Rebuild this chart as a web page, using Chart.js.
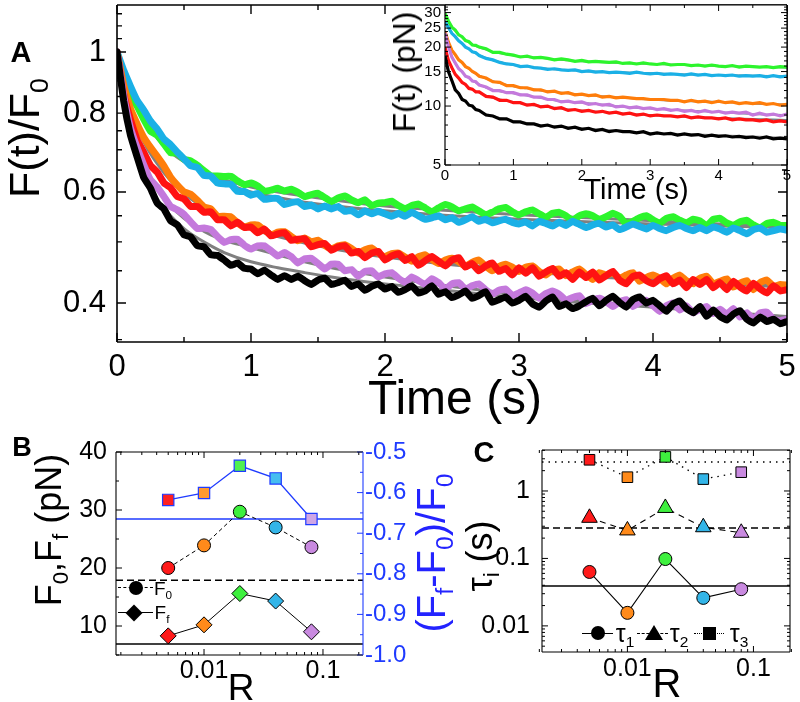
<!DOCTYPE html>
<html><head><meta charset="utf-8">
<script src="https://cdn.jsdelivr.net/npm/chart.js@4.4.1/dist/chart.umd.min.js"></script>
<style>
body{margin:0;background:#fff;width:800px;height:702px;position:relative;overflow:hidden;font-family:"Liberation Sans",Arial,sans-serif;color:#000}
canvas{position:absolute}
.t{position:absolute;white-space:nowrap;line-height:1;transform:translate(-50%,-50%)}
.r{transform:translate(-50%,-50%) rotate(-90deg)}
.t sub{font-size:62%;vertical-align:baseline;position:relative;top:0.32em}
.abs{position:absolute}
</style></head><body>
<canvas id="cA" width="800" height="400" style="left:0;top:0;width:800px;height:400px"></canvas>
<canvas id="cI" width="420" height="200" style="left:380px;top:0;width:420px;height:200px"></canvas>
<canvas id="cB" width="420" height="282" style="left:0;top:420px;width:420px;height:282px"></canvas>
<canvas id="cC" width="380" height="282" style="left:420px;top:420px;width:380px;height:282px"></canvas>

<div class="t" style="left:21px;top:52px;font-size:29px;font-weight:bold">A</div>
<div class="t r" style="left:24px;top:138px;font-size:43px">F(t)/F<sub>0</sub></div>
<div class="t" style="left:455px;top:398px;font-size:48px">Time (s)</div>
<div class="t r" style="left:404px;top:72px;font-size:32px">F(t) (pN)</div>
<div class="t" style="left:636px;top:189px;font-size:29px">Time (s)</div>

<div class="t" style="left:22px;top:447px;font-size:27px;font-weight:bold">B</div>
<div class="t r" style="left:49px;top:530px;font-size:36px">F<sub>0</sub>,F<sub>f</sub> (pN)</div>
<div class="t" style="left:241px;top:687px;font-size:37px">R</div>
<div class="t r" style="left:431px;top:553px;font-size:40px;color:#2323ff">(F<sub>f</sub>-F<sub>0</sub>)/F<sub>0</sub></div>
<!-- B legend -->
<div class="abs" style="left:118px;top:587px;width:35px;border-top:1.3px dashed #000"></div>
<div class="abs" style="left:129px;top:581px;width:14px;height:14px;border-radius:50%;background:#000"></div>
<div class="t" style="left:163px;top:588px;font-size:19px">F<sub>0</sub></div>
<div class="abs" style="left:118px;top:612px;width:35px;border-top:1.3px solid #000"></div>
<div class="abs" style="left:128px;top:607px;width:12px;height:12px;background:#000;transform:rotate(45deg)"></div>
<div class="t" style="left:162px;top:612px;font-size:19px">F<sub>f</sub></div>

<div class="t" style="left:484px;top:452px;font-size:29px;font-weight:bold">C</div>
<div class="t r" style="left:480px;top:556px;font-size:36px">τ<sub>i</sub> (s)</div>
<div class="t" style="left:667px;top:683px;font-size:40px">R</div>
<!-- C legend -->
<div class="abs" style="left:582px;top:633px;width:31px;border-top:1.3px solid #000"></div>
<div class="abs" style="left:591px;top:626px;width:14px;height:14px;border-radius:50%;background:#000"></div>
<div class="t" style="left:625px;top:633px;font-size:25px">τ<sub>1</sub></div>
<div class="abs" style="left:637px;top:633px;width:31px;border-top:1.3px dashed #000"></div>
<div class="abs" style="left:645px;top:625px;width:0;height:0;border-left:9px solid transparent;border-right:9px solid transparent;border-bottom:15px solid #000"></div>
<div class="t" style="left:679px;top:633px;font-size:25px">τ<sub>2</sub></div>
<div class="abs" style="left:694px;top:633px;width:30px;border-top:1.5px dotted #000"></div>
<div class="abs" style="left:703px;top:627px;width:13px;height:13px;background:#000"></div>
<div class="t" style="left:739px;top:633px;font-size:25px">τ<sub>3</sub></div>

<script>
// ---------------- DATA ----------------
// Panel A time grid (s)
const tMain = [0,0.05,0.1,0.15,0.2,0.25,0.3,0.35,0.4,0.45,
 0.5,0.55,0.6,0.65,0.7,0.75,0.8,0.85,0.9,0.95,
 1.0,1.05,1.1,1.15,1.2,1.25,1.3,1.35,1.4,1.45,
 1.5,1.55,1.6,1.65,1.7,1.75,1.8,1.85,1.9,1.95,
 2.0,2.05,2.1,2.15,2.2,2.25,2.3,2.35,2.4,2.45,
 2.5,2.55,2.6,2.65,2.7,2.75,2.8,2.85,2.9,2.95,
 3.0,3.05,3.1,3.15,3.2,3.25,3.3,3.35,3.4,3.45,
 3.5,3.55,3.6,3.65,3.7,3.75,3.8,3.85,3.9,3.95,
 4.0,4.05,4.1,4.15,4.2,4.25,4.3,4.35,4.4,4.45,
 4.5,4.55,4.6,4.65,4.7,4.75,4.8,4.85,4.9,4.95,
 5.0];
// Inset time grid (s)
const tInset = [0,0.05,0.1,0.15,0.2,0.25,0.3,0.35,0.4,0.45,
 0.5,0.6,0.7,0.8,0.9,1.0,1.1,1.2,1.3,1.4,
 1.5,1.6,1.7,1.8,1.9,2.0,2.1,2.2,2.3,2.4,
 2.5,2.6,2.7,2.8,2.9,3.0,3.1,3.2,3.3,3.4,
 3.5,3.6,3.7,3.8,3.9,4.0,4.1,4.2,4.3,4.4,
 4.5,4.6,4.7,4.8,4.9,5.0];
// Fit-curve time grid (s)
const tFit = [0,0.05,0.1,0.15,0.2,0.3,0.4,0.5,0.6,0.7,0.8,1.0,1.2,1.4,1.6,1.8,2.0,2.5,3.0,3.5,4.0,4.5,5.0];

// Panel A: normalised force F(t)/F0
const normGreen = [1.0,.914,.852,.821,.782,.749,.738,.715,.692,.691,
 .676,.672,.661,.648,.636,.636,.635,.635,.625,.616,
 .620,.613,.602,.604,.608,.602,.606,.599,.590,.594,
 .597,.588,.579,.587,.591,.583,.577,.583,.571,.576,
 .577,.580,.571,.564,.571,.574,.566,.558,.566,.573,
 .568,.560,.564,.568,.560,.552,.557,.564,.567,.558,
 .552,.558,.562,.554,.547,.555,.557,.550,.541,.550,
 .554,.550,.543,.548,.555,.549,.534,.539,.546,.550,
 .542,.535,.545,.548,.541,.536,.543,.540,.530,.543,
 .545,.536,.531,.538,.541,.532,.526,.535,.537,.531,
 .531];
const normCyan = [1.0,.935,.883,.838,.809,.777,.755,.728,.713,.694,
 .677,.660,.656,.637,.636,.620,.618,.617,.601,.601,
 .593,.597,.584,.586,.586,.573,.577,.579,.569,.572,
 .564,.570,.564,.569,.559,.561,.552,.560,.554,.559,
 .554,.549,.555,.549,.557,.550,.543,.546,.550,.542,
 .546,.537,.542,.548,.539,.543,.536,.540,.543,.537,
 .534,.538,.530,.539,.535,.530,.537,.531,.539,.533,
 .527,.532,.535,.528,.532,.523,.528,.534,.529,.524,
 .531,.525,.521,.527,.531,.525,.521,.527,.521,.528,
 .524,.518,.526,.521,.515,.523,.526,.518,.521,.524,
 .522];
const normOrange = [1.0,.886,.814,.769,.732,.706,.683,.660,.633,.615,
 .600,.595,.582,.568,.564,.549,.549,.548,.536,.528,
 .532,.532,.522,.513,.518,.519,.510,.502,.507,.500,
 .503,.494,.487,.493,.495,.488,.480,.486,.489,.480,
 .474,.479,.480,.473,.466,.474,.477,.469,.462,.468,
 .471,.465,.457,.464,.468,.458,.450,.457,.461,.456,
 .449,.456,.458,.449,.443,.451,.453,.442,.448,.453,
 .444,.436,.447,.443,.447,.438,.443,.447,.433,.439,
 .443,.438,.429,.438,.443,.434,.429,.438,.441,.429,
 .433,.437,.424,.430,.434,.420,.431,.435,.425,.428,
 .427];
const normRed = [1.0,.857,.782,.726,.693,.661,.645,.620,.609,.590,
 .585,.569,.569,.557,.558,.542,.542,.530,.537,.527,
 .528,.517,.524,.511,.515,.517,.503,.505,.506,.491,
 .495,.497,.485,.491,.493,.480,.483,.472,.480,.483,
 .468,.475,.479,.467,.474,.459,.467,.474,.466,.458,
 .468,.472,.456,.462,.450,.458,.463,.449,.454,.443,
 .455,.446,.455,.441,.448,.454,.441,.447,.436,.448,
 .439,.448,.435,.442,.449,.435,.429,.441,.443,.434,
 .429,.437,.442,.429,.435,.423,.436,.428,.436,.423,
 .431,.420,.433,.424,.418,.430,.421,.415,.426,.418,
 .420];
const normPurple = [1.0,.853,.758,.705,.662,.627,.611,.590,.569,.562,
 .553,.538,.525,.526,.523,.510,.499,.504,.505,.494,
 .487,.493,.493,.484,.475,.481,.474,.463,.470,.471,
 .462,.453,.461,.461,.450,.452,.441,.449,.450,.440,
 .445,.447,.438,.431,.440,.434,.428,.437,.431,.421,
 .429,.431,.421,.426,.429,.420,.413,.419,.421,.411,
 .415,.420,.415,.407,.414,.418,.413,.404,.408,.411,
 .399,.404,.407,.402,.395,.402,.405,.395,.401,.404,
 .396,.388,.396,.400,.390,.396,.386,.391,.395,.385,
 .391,.384,.392,.380,.386,.377,.386,.387,.377,.375,
 .377];
const normBlack = [1.0,.836,.739,.682,.632,.608,.576,.564,.540,.532,
 .513,.509,.493,.491,.477,.476,.468,.459,.463,.454,
 .453,.445,.451,.443,.436,.442,.436,.441,.434,.428,
 .435,.438,.428,.431,.435,.425,.429,.419,.425,.429,
 .421,.425,.416,.420,.426,.415,.418,.426,.413,.417,
 .408,.412,.418,.407,.411,.417,.401,.405,.409,.400,
 .404,.410,.399,.394,.403,.409,.395,.399,.392,.396,
 .402,.407,.396,.404,.410,.401,.394,.405,.409,.400,
 .404,.396,.388,.399,.403,.392,.386,.395,.381,.390,
 .381,.376,.384,.389,.377,.372,.380,.374,.377,.371,
 .374];

const fitNormGreen  = [1.0,.91,.855,.815,.78,.73,.694,.67,.652,.638,.627,.611,.60,.591,.583,.576,.57,.56,.552,.546,.54,.534,.528];
const fitNormCyan   = [1.0,.93,.875,.835,.80,.745,.705,.675,.652,.635,.621,.60,.588,.578,.571,.565,.56,.55,.543,.538,.534,.530,.527];
const fitNormOrange = [1.0,.88,.81,.76,.72,.665,.625,.597,.575,.558,.545,.527,.512,.50,.49,.482,.475,.462,.451,.442,.436,.430,.425];
const fitNormRed    = [1.0,.86,.78,.73,.69,.64,.605,.583,.566,.552,.541,.524,.510,.498,.488,.480,.473,.460,.450,.441,.435,.429,.424];
const fitNormPurple = [1.0,.85,.76,.70,.66,.605,.57,.545,.527,.513,.503,.49,.477,.465,.455,.447,.44,.425,.413,.403,.395,.387,.38];
const fitNormBlack  = [1.0,.84,.745,.68,.64,.585,.55,.525,.507,.493,.481,.465,.455,.447,.44,.434,.429,.418,.408,.40,.394,.387,.381];

// Inset: force in pN
const pnGreen = [29.7,27.2,25.3,24.4,23.1,22.6,21.6,21.3,20.5,20.4,
 20.0,19.6,18.8,18.8,18.4,18.2,17.8,18.0,17.6,17.7,
 17.5,17.2,17.4,17.2,16.9,17.1,16.8,16.9,16.8,16.7,
 16.8,16.5,16.6,16.4,16.6,16.4,16.3,16.5,16.2,16.3,
 16.3,16.1,16.2,16.0,16.2,16.0,15.9,16.1,15.8,16.0,
 15.9,15.8,15.9,15.7,15.9,15.8];
const pnCyan = [27.0,25.2,23.5,22.6,21.5,20.9,20.0,19.6,18.9,18.7,
 18.1,17.5,17.2,16.7,16.4,16.3,15.9,16.0,15.7,15.6,
 15.4,15.5,15.3,15.2,15.3,15.0,15.1,14.9,15.0,14.8,
 14.9,14.8,14.7,14.9,14.7,14.6,14.7,14.5,14.6,14.5,
 14.4,14.6,14.4,14.5,14.3,14.4,14.3,14.4,14.2,14.3,
 14.2,14.3,14.1,14.3,14.1,14.2];
const pnOrange = [24.0,21.2,19.3,18.3,17.2,16.7,15.9,15.6,15.0,14.7,
 14.2,13.9,13.3,13.2,12.7,12.7,12.4,12.4,12.1,12.1,
 11.8,11.9,11.6,11.7,11.4,11.5,11.3,11.4,11.1,11.2,
 11.0,11.1,11.0,10.9,10.9,10.8,10.8,10.8,10.7,10.7,
 10.5,10.7,10.5,10.6,10.4,10.6,10.4,10.5,10.3,10.4,
 10.3,10.4,10.2,10.3,10.1,10.2];
const pnRed = [20.0,17.1,15.7,14.5,13.9,13.2,12.9,12.3,12.2,11.8,
 11.8,11.2,11.1,10.7,10.7,10.4,10.4,10.1,10.2,9.9,
 10.0,9.7,9.8,9.5,9.6,9.4,9.5,9.3,9.4,9.2,
 9.3,9.1,9.2,9.0,9.1,8.9,9.0,8.9,8.9,8.8,
 8.9,8.7,8.8,8.7,8.7,8.6,8.7,8.5,8.6,8.5,
 8.5,8.4,8.5,8.3,8.4,8.3];
const pnPurple = [23.6,20.2,17.8,16.6,15.5,15.0,14.2,14.0,13.4,13.3,
 12.8,12.5,12.0,12.0,11.7,11.7,11.4,11.4,11.1,11.1,
 10.8,10.8,10.5,10.6,10.4,10.5,10.2,10.3,10.1,10.2,
 9.9,10.0,9.8,9.9,9.7,9.8,9.6,9.7,9.5,9.6,
 9.4,9.5,9.3,9.5,9.3,9.4,9.2,9.3,9.2,9.3,
 9.0,9.2,9.0,9.1,8.9,9.1];
const pnBlack = [18.0,15.0,13.5,12.1,11.6,10.8,10.6,10.1,10.0,9.6,
 9.5,9.0,8.9,8.6,8.6,8.3,8.3,8.1,8.1,7.9,
 8.0,7.8,7.9,7.7,7.8,7.6,7.7,7.5,7.6,7.4,
 7.5,7.4,7.4,7.3,7.4,7.2,7.3,7.2,7.25,7.1,
 7.2,7.1,7.15,7.0,7.1,7.0,7.05,6.95,7.0,6.9,
 6.95,6.85,6.95,6.8,6.85,6.8];

const fitPnGreen  = [29.7,27.0,25.4,24.2,23.2,21.7,20.6,19.9,19.4,18.9,18.6,18.1,17.8,17.6,17.3,17.1,16.9,16.6,16.4,16.2,16.0,15.9,15.7];
const fitPnCyan   = [27.0,25.1,23.6,22.5,21.6,20.1,19.0,18.2,17.6,17.1,16.8,16.2,15.9,15.6,15.4,15.3,15.1,14.9,14.7,14.5,14.4,14.3,14.2];
const fitPnOrange = [24.0,21.1,19.4,18.2,17.3,16.0,15.0,14.3,13.8,13.4,13.1,12.6,12.3,12.0,11.8,11.6,11.4,11.1,10.8,10.6,10.5,10.3,10.2];
const fitPnRed    = [20.0,17.2,15.6,14.6,13.8,12.8,12.1,11.7,11.3,11.0,10.8,10.5,10.2,10.0,9.8,9.6,9.5,9.2,9.0,8.8,8.7,8.6,8.5];
const fitPnPurple = [23.6,20.1,17.9,16.5,15.6,14.3,13.5,12.9,12.4,12.1,11.9,11.6,11.3,11.0,10.7,10.5,10.4,10.0,9.7,9.5,9.3,9.1,9.0];
const fitPnBlack  = [18.0,15.1,13.4,12.2,11.5,10.5,9.9,9.45,9.1,8.9,8.7,8.4,8.2,8.0,7.9,7.8,7.7,7.5,7.3,7.2,7.1,7.0,6.9];

// Panels B and C
const R = [0.005, 0.01, 0.02, 0.04, 0.08];
const F0 = [20.0, 23.9, 29.7, 27.0, 23.6];
const Ff = [8.3, 10.2, 15.6, 14.3, 9.0];
const relDrop = [-0.618, -0.601, -0.534, -0.565, -0.665];
const refF0 = 17.9, refFf = 6.9, refDrop = -0.665;
const tau1 = [0.063, 0.0156, 0.098, 0.026, 0.035];
const tau2 = [0.40, 0.26, 0.56, 0.29, 0.24];
const tau3 = [2.9, 1.6, 3.2, 1.5, 1.9];
const refTau = [0.039, 0.283, 2.7];

// tick labels
const aXTicks = [0,1,2,3,4,5], aXMinor = [0.5,1.5,2.5,3.5,4.5];
const aYTicks = [0.4,0.6,0.8,1], aYLabels = ['0.4','0.6','0.8','1'];
const aYMinor = [0.35,0.45,0.5,0.55,0.65,0.7,0.75,0.85,0.9,0.95,1.05,1.1,1.15];
const iXTicks = [0,1,2,3,4,5], iXMinor = [0.5,1.5,2.5,3.5,4.5];
const iYTicks = [5,10,15,20,25,30];
const iYMinor = [6,7,8,9,11,12,13,14,16,17,18,19,21,22,23,24,26,27,28,29,31,32];
const rTicks = [0.01, 0.1], rLabels = ['0.01','0.1'];
const rMinor = [0.002,0.003,0.004,0.005,0.006,0.007,0.008,0.009,0.02,0.03,0.04,0.05,0.06,0.07,0.08,0.09,0.2];
const bYTicks = [10,20,30,40], bYMinor = [5,15,25,35];
const bY2Ticks = [-1.0,-0.9,-0.8,-0.7,-0.6,-0.5], bY2Labels = ['-1.0','-0.9','-0.8','-0.7','-0.6','-0.5'];
const bY2Minor = [-0.95,-0.85,-0.75,-0.65,-0.55];
const cYTicks = [0.01,0.1,1], cYLabels = ['0.01','0.1','1'];
const cYMinor = [0.005,0.006,0.007,0.008,0.009,0.02,0.03,0.04,0.05,0.06,0.07,0.08,0.09,0.2,0.3,0.4,0.5,0.6,0.7,0.8,0.9,2,3,4];

// ---------------- STYLE ----------------
const COL = {green:'#2cf52c', cyan:'#1ab0e6', orange:'#ff7d0a', red:'#ff1212', purple:'#c479dc', black:'#000000'};
const markerCols = ['#ff1a1a','#ff8a1a','#3ef03e','#33b5e8','#c98ae0'];
const squareCols = ['#ff2020','#ff9a30','#50f050','#45bdf0','#cfa6e6'];
const BLUE = '#1f3bff';
const FONT = '"Liberation Sans", Arial, sans-serif';

const pts = (xs, ys) => xs.map((x, i) => ({x: x, y: ys[i]}));

const framePlugin = {
  id: 'frame',
  beforeDraw(chart, args, o) {
    if (o.fill) {
      const a = chart.chartArea, c = chart.ctx;
      c.save(); c.fillStyle = o.fill; c.fillRect(a.left, a.top, a.right - a.left, a.bottom - a.top); c.restore();
    }
  },
  beforeDatasetsDraw(chart, args, o) {
    const c = chart.ctx, a = chart.chartArea;
    (o.refs || []).forEach(r => {
      const p = chart.scales[r.axis].getPixelForValue(r.value);
      c.save(); c.strokeStyle = r.color; c.lineWidth = r.width; c.setLineDash(r.dash || []);
      c.beginPath(); c.moveTo(a.left, p); c.lineTo(a.right, p); c.stroke(); c.restore();
    });
  },
  afterDatasetsDraw(chart, args, o) {
    const c = chart.ctx, a = chart.chartArea;
    c.save();
    c.lineWidth = o.tickWidth || 1;
    (o.axes || []).forEach(ax => {
      const sc = chart.scales[ax.id];
      c.strokeStyle = ax.color || '#000';
      c.beginPath();
      const draw = (v, L) => {
        const p = sc.getPixelForValue(v);
        ax.sides.forEach(s => {
          if (s === 'bottom') { c.moveTo(p, a.bottom); c.lineTo(p, a.bottom - L); }
          if (s === 'top') { c.moveTo(p, a.top); c.lineTo(p, a.top + L); }
          if (s === 'left') { c.moveTo(a.left, p); c.lineTo(a.left + L, p); }
          if (s === 'right') { c.moveTo(a.right, p); c.lineTo(a.right - L, p); }
        });
      };
      ax.major.forEach(v => draw(v, o.majorLen));
      ax.minor.forEach(v => draw(v, o.minorLen));
      c.stroke();
    });
    c.lineWidth = o.lw;
    const sc = o.sideColors || {};
    const line = (x1, y1, x2, y2, col) => { c.strokeStyle = col; c.beginPath(); c.moveTo(x1, y1); c.lineTo(x2, y2); c.stroke(); };
    line(a.left, a.top, a.right, a.top, sc.top || '#000');
    line(a.left, a.bottom, a.right, a.bottom, sc.bottom || '#000');
    line(a.left, a.top, a.left, a.bottom, sc.left || '#000');
    line(a.right, a.top, a.right, a.bottom, sc.right || '#000');
    c.restore();
  }
};
Chart.register(framePlugin);

// axis with fixed thickness and no extra label-overhang padding
function axisBase(extra, thick) {
  return Object.assign({
    grid: {display: false, drawTicks: false},
    border: {display: false},
    afterFit: s => {
      if (s.isHorizontal()) s.height = thick; else s.width = thick;
      s.paddingTop = 0; s.paddingBottom = 0; s.paddingLeft = 0; s.paddingRight = 0;
    }
  }, extra);
}
function tickOpts(labels, values, size, pad, color) {
  return {
    autoSkip: false, maxRotation: 0, minRotation: 0, padding: pad, color: color || '#000',
    font: {family: FONT, size: size},
    callback: (v) => { const i = values.findIndex(x => Math.abs(x - v) < 1e-9); return i >= 0 ? labels[i] : ''; }
  };
}
const setTicks = (vals) => (s) => { s.ticks = vals.map(v => ({value: v})); };
const baseOpts = {animation: false, responsive: false, devicePixelRatio: 1, events: []};

// ---------------- PANEL A ----------------
const seriesA = [
  ['black', normBlack, fitNormBlack], ['purple', normPurple, fitNormPurple], ['red', normRed, fitNormRed],
  ['orange', normOrange, fitNormOrange], ['cyan', normCyan, fitNormCyan], ['green', normGreen, fitNormGreen]
];
const dsA = [];
seriesA.forEach(s => dsA.push({data: pts(tMain, s[1]), borderColor: COL[s[0]], borderWidth: 7, pointRadius: 0, tension: 0.1, borderJoinStyle: 'round', borderCapStyle: 'round'}));
seriesA.forEach(s => dsA.push({data: pts(tFit, s[2]), borderColor: '#808080', borderWidth: 3, pointRadius: 0, cubicInterpolationMode: 'monotone'}));

new Chart(document.getElementById('cA'), {
  type: 'line',
  data: {datasets: dsA},
  options: Object.assign({}, baseOpts, {
    layout: {padding: {top: 5, right: 13, left: 0, bottom: 0}},
    plugins: {legend: {display: false}, tooltip: {enabled: false},
      frame: {lw: 1.6, tickWidth: 1.4, majorLen: 9, minorLen: 5, axes: [
        {id: 'x', major: aXTicks, minor: aXMinor, sides: ['bottom', 'top']},
        {id: 'y', major: aYTicks, minor: aYMinor, sides: ['left', 'right']}]}},
    scales: {
      x: axisBase({type: 'linear', min: 0, max: 5, afterBuildTicks: setTicks(aXTicks),
        ticks: tickOpts(aXTicks.map(String), aXTicks, 31, 7)}, 58),
      y: axisBase({type: 'logarithmic', min: 0.347, max: 1.187, afterBuildTicks: setTicks(aYTicks),
        ticks: tickOpts(aYLabels, aYTicks, 31, 11)}, 117)
    }
  })
});

// ---------------- INSET ----------------
const seriesI = [
  ['black', pnBlack, fitPnBlack, '#a8a8a8'], ['purple', pnPurple, fitPnPurple, '#6f7f8f'], ['red', pnRed, fitPnRed, '#6f8590'],
  ['orange', pnOrange, fitPnOrange, '#7a7a7a'], ['cyan', pnCyan, fitPnCyan, '#7a7a7a'], ['green', pnGreen, fitPnGreen, '#808080']
];
const dsI = [];
seriesI.forEach(s => dsI.push({data: pts(tInset, s[1]), borderColor: COL[s[0]], borderWidth: 3.2, pointRadius: 0, tension: 0}));
seriesI.forEach(s => dsI.push({data: pts(tFit, s[2]), borderColor: s[3], borderWidth: 1.8, pointRadius: 0, cubicInterpolationMode: 'monotone'}));

new Chart(document.getElementById('cI'), {
  type: 'line',
  data: {datasets: dsI},
  options: Object.assign({}, baseOpts, {
    layout: {padding: {top: 5, right: 13, left: 0, bottom: 0}},
    plugins: {legend: {display: false}, tooltip: {enabled: false},
      frame: {fill: '#ffffff', lw: 1.2, tickWidth: 1, majorLen: 6, minorLen: 3, axes: [
        {id: 'x', major: iXTicks, minor: iXMinor, sides: ['bottom', 'top']},
        {id: 'y', major: iYTicks, minor: iYMinor, sides: ['left', 'right']}]}},
    scales: {
      x: axisBase({type: 'linear', min: 0, max: 5, afterBuildTicks: setTicks(iXTicks),
        ticks: tickOpts(iXTicks.map(String), iXTicks, 15, 2)}, 35),
      y: axisBase({type: 'logarithmic', min: 5, max: 32.8, afterBuildTicks: setTicks(iYTicks),
        ticks: tickOpts(iYTicks.map(String), iYTicks, 15, 4)}, 65)
    }
  })
});

// ---------------- PANEL B ----------------
new Chart(document.getElementById('cB'), {
  type: 'line',
  data: {datasets: [
    {data: pts(R, relDrop), yAxisID: 'y2', borderColor: BLUE, borderWidth: 1.3, pointStyle: 'rect', pointRadius: 8,
     pointBackgroundColor: squareCols, pointBorderColor: BLUE, pointBorderWidth: 1.2},
    {data: pts(R, F0), yAxisID: 'y', borderColor: '#000', borderWidth: 1, borderDash: [4, 3], pointStyle: 'circle', pointRadius: 6.5,
     pointBackgroundColor: markerCols, pointBorderColor: '#000', pointBorderWidth: 1},
    {data: pts(R, Ff), yAxisID: 'y', borderColor: '#000', borderWidth: 1, pointStyle: 'rectRot', pointRadius: 8,
     pointBackgroundColor: markerCols, pointBorderColor: '#000', pointBorderWidth: 1}
  ]},
  options: Object.assign({}, baseOpts, {
    layout: {padding: {top: 32, right: 0, left: 0, bottom: 0}},
    plugins: {legend: {display: false}, tooltip: {enabled: false},
      frame: {lw: 1.1, tickWidth: 1, majorLen: 6, minorLen: 3, sideColors: {right: BLUE},
        refs: [{axis: 'y2', value: refDrop, color: BLUE, width: 1.6},
               {axis: 'y', value: refF0, color: '#000', width: 1.4, dash: [7, 4]},
               {axis: 'y', value: refFf, color: '#000', width: 1.4}],
        axes: [{id: 'x', major: rTicks, minor: rMinor, sides: ['bottom', 'top']},
               {id: 'y', major: bYTicks, minor: bYMinor, sides: ['left']},
               {id: 'y2', major: bY2Ticks, minor: bY2Minor, sides: ['right'], color: BLUE}]}},
    scales: {
      x: axisBase({type: 'logarithmic', min: 0.00182, max: 0.217, afterBuildTicks: setTicks(rTicks),
        ticks: tickOpts(rLabels, rTicks, 25, 1)}, 47),
      y: axisBase({type: 'linear', position: 'left', min: 5, max: 40, afterBuildTicks: setTicks(bYTicks),
        ticks: tickOpts(bYTicks.map(String), bYTicks, 25, 9)}, 116),
      y2: axisBase({type: 'linear', position: 'right', min: -1.0, max: -0.5, afterBuildTicks: setTicks(bY2Ticks),
        ticks: tickOpts(bY2Labels, bY2Ticks, 24, 2, BLUE)}, 57)
    }
  })
});

// ---------------- PANEL C ----------------
new Chart(document.getElementById('cC'), {
  type: 'line',
  data: {datasets: [
    {data: pts(R, tau1), borderColor: '#000', borderWidth: 1.1, pointStyle: 'circle', pointRadius: 6.5,
     pointBackgroundColor: markerCols, pointBorderColor: '#000', pointBorderWidth: 1},
    {data: pts(R, tau2), borderColor: '#000', borderWidth: 1.1, borderDash: [6, 5], pointStyle: 'triangle', pointRadius: 9,
     pointBackgroundColor: markerCols, pointBorderColor: '#000', pointBorderWidth: 1},
    {data: pts(R, tau3), borderColor: '#000', borderWidth: 1.3, borderDash: [1.5, 5], pointStyle: 'rect', pointRadius: 7.5,
     pointBackgroundColor: markerCols, pointBorderColor: '#000', pointBorderWidth: 1}
  ]},
  options: Object.assign({}, baseOpts, {
    layout: {padding: {top: 30, right: 8, left: 0, bottom: 0}},
    plugins: {legend: {display: false}, tooltip: {enabled: false},
      frame: {lw: 1.1, tickWidth: 1, majorLen: 6, minorLen: 3,
        refs: [{axis: 'y', value: refTau[0], color: '#000', width: 1.4},
               {axis: 'y', value: refTau[1], color: '#000', width: 1.4, dash: [7, 4]},
               {axis: 'y', value: refTau[2], color: '#000', width: 1.5, dash: [1.5, 5]}],
        axes: [{id: 'x', major: rTicks, minor: rMinor, sides: ['bottom', 'top']},
               {id: 'y', major: cYTicks, minor: cYMinor, sides: ['left', 'right']}]}},
    scales: {
      x: axisBase({type: 'logarithmic', min: 0.0021, max: 0.195, afterBuildTicks: setTicks(rTicks),
        ticks: tickOpts(rLabels, rTicks, 25, 2)}, 50),
      y: axisBase({type: 'logarithmic', min: 0.0041, max: 4.05, afterBuildTicks: setTicks(cYTicks),
        ticks: tickOpts(cYLabels, cYTicks, 25, 12)}, 122)
    }
  })
});
</script>
</body></html>
